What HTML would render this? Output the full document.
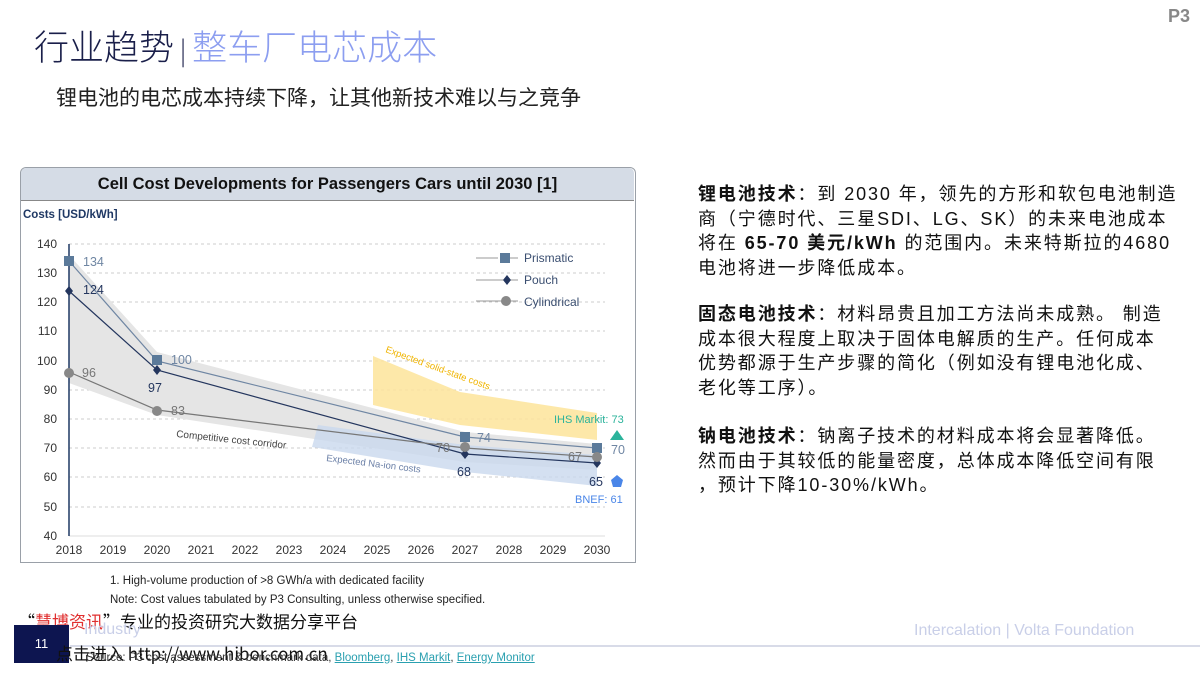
<!DOCTYPE html>
<html><head><meta charset="utf-8"><style>
body{margin:0;width:1200px;height:675px;background:#fff;position:relative;overflow:hidden;font-family:"Liberation Sans","Noto Sans CJK SC",sans-serif}
.a{position:absolute;white-space:nowrap}
.rt{position:absolute;left:698px;font-size:18px;line-height:24.5px;color:#111;white-space:nowrap;letter-spacing:1.9px}
.rt b{font-weight:bold}
</style></head><body>
<div class="a" style="left:34px;top:20px;font-size:35px;color:#1a1f4a;font-family:'Noto Sans CJK SC',sans-serif;font-weight:300">行业趋势<span style="font-size:26px;color:#1a1f4a"> | </span><span style="color:#8c9ef0">整车厂电芯成本</span></div>
<div class="a" style="left:1168px;top:6px;font-size:18px;color:#888;font-weight:bold">P3</div>
<div class="a" style="left:56px;top:82px;font-size:21px;color:#222;font-family:'Noto Sans CJK SC',sans-serif">锂电池的电芯成本持续下降，让其他新技术难以与之竞争</div>

<div class="a" style="left:20px;top:167px;width:614px;height:394px;border:1.5px solid #9aa0a8;border-radius:6px 6px 0 0"></div>
<div class="a" style="left:21px;top:168px;width:613px;height:32px;background:#d5dce6;border-bottom:1.5px solid #888;border-radius:5px 5px 0 0;text-align:center;font-size:16.5px;font-weight:bold;line-height:32px;color:#111">Cell Cost Developments for Passengers Cars until 2030 [1]</div>

<svg class="a" style="left:0;top:0" width="1200" height="675" font-family="Liberation Sans, sans-serif">
<text x="23" y="218" font-size="11.5" fill="#1f3864" font-weight="bold">Costs [USD/kWh]</text>
<g stroke="#ccc" stroke-dasharray="3,3">
<line x1="69" x2="605" y1="244" y2="244"/><line x1="69" x2="605" y1="273" y2="273"/><line x1="69" x2="605" y1="302" y2="302"/><line x1="69" x2="605" y1="331" y2="331"/><line x1="69" x2="605" y1="361" y2="361"/><line x1="69" x2="605" y1="390" y2="390"/><line x1="69" x2="605" y1="419" y2="419"/><line x1="69" x2="605" y1="448" y2="448"/><line x1="69" x2="605" y1="477" y2="477"/><line x1="69" x2="605" y1="507" y2="507"/>
</g>
<line x1="69" x2="605" y1="536" y2="536" stroke="#ddd"/>
<g font-size="12" fill="#333" text-anchor="end">
<text x="57" y="248">140</text><text x="57" y="277">130</text><text x="57" y="306">120</text><text x="57" y="335">110</text><text x="57" y="365">100</text><text x="57" y="394">90</text><text x="57" y="423">80</text><text x="57" y="452">70</text><text x="57" y="481">60</text><text x="57" y="511">50</text><text x="57" y="540">40</text>
</g>
<g font-size="12" fill="#333" text-anchor="middle">
<text x="69" y="554">2018</text><text x="113" y="554">2019</text><text x="157" y="554">2020</text><text x="201" y="554">2021</text><text x="245" y="554">2022</text><text x="289" y="554">2023</text><text x="333" y="554">2024</text><text x="377" y="554">2025</text><text x="421" y="554">2026</text><text x="465" y="554">2027</text><text x="509" y="554">2028</text><text x="553" y="554">2029</text><text x="597" y="554">2030</text>
</g>
<polygon points="69,255 157,352 465,432 597,444 597,470 465,462 157,415 69,383" fill="#e5e5e5"/>
<polygon points="318,425 465,445 597,455 597,486 465,472 312,447" fill="#c9d8ee" opacity="0.8"/>
<polygon points="373,356 460,392 597,413 597,440 460,425 373,405" fill="#fde49a" opacity="0.85"/>
<text x="385" y="352" font-size="9.5" fill="#f0b400" transform="rotate(20 385 352)">Expected solid-state costs</text>
<text x="176" y="437" font-size="10" fill="#444" transform="rotate(6 176 437)">Competitive cost corridor</text>
<text x="326" y="461" font-size="9.5" fill="#6a7fa6" transform="rotate(7 326 461)">Expected Na-ion costs</text>
<line x1="69" y1="244" x2="69" y2="536" stroke="#1f3864" stroke-width="1.5"/>
<polyline points="69,261 157,361 465,437 597,448" fill="none" stroke="#6f86a3" stroke-width="1.2"/>
<polyline points="69,291 157,370 465,454 597,463" fill="none" stroke="#24365e" stroke-width="1.2"/>
<polyline points="69,372 157,410 465,448 597,457" fill="none" stroke="#777" stroke-width="1.2"/>
<g fill="#5b7a9a"><rect x="64" y="256" width="10" height="10"/><rect x="152" y="355" width="10" height="10"/><rect x="460" y="432" width="10" height="10"/><rect x="592" y="443" width="10" height="10"/></g>
<g fill="#24365e"><path d="M69,286l4,5-4,5-4-5z"/><path d="M157,365l4,5-4,5-4-5z"/><path d="M465,449l4,5-4,5-4-5z"/><path d="M597,458l4,5-4,5-4-5z"/></g>
<g fill="#888"><circle cx="69" cy="373" r="5"/><circle cx="157" cy="411" r="5"/><circle cx="465" cy="447" r="5"/><circle cx="597" cy="457" r="5"/></g>
<g font-size="12.5" fill="#6f86a3"><text x="83" y="266">134</text><text x="171" y="364">100</text><text x="477" y="442">74</text><text x="611" y="454">70</text></g>
<g font-size="12.5" fill="#24365e"><text x="83" y="294">124</text><text x="148" y="392">97</text><text x="457" y="476">68</text><text x="589" y="486">65</text></g>
<g font-size="12.5" fill="#777"><text x="82" y="377">96</text><text x="171" y="415">83</text><text x="436" y="452">70</text><text x="568" y="461">67</text></g>
<polygon points="617,430 624,440 610,440" fill="#2bb39b"/>
<polygon points="617,475 623,480 621,487 613,487 611,480" fill="#4a86e8"/>
<text x="554" y="423" font-size="11" fill="#2bb39b">IHS Markit: 73</text>
<text x="575" y="503" font-size="11" fill="#4a86e8">BNEF: 61</text>
<line x1="476" y1="258" x2="498" y2="258" stroke="#999"/><rect x="500" y="253" width="10" height="10" fill="#5b7a9a"/><line x1="510" y1="258" x2="518" y2="258" stroke="#999"/>
<line x1="476" y1="280" x2="518" y2="280" stroke="#999"/><path d="M507,275l4,5-4,5-4-5z" fill="#24365e"/>
<line x1="476" y1="301" x2="518" y2="301" stroke="#999"/><circle cx="506" cy="301" r="5" fill="#888"/>
<g font-size="12" fill="#3a4e70"><text x="524" y="262">Prismatic</text><text x="524" y="284">Pouch</text><text x="524" y="306">Cylindrical</text></g>
</svg>

<div class="rt" style="top:182px"><b>锂电池技术</b>：到 2030 年，领先的方形和软包电池制造<br>商（宁德时代、三星SDI、LG、SK）的未来电池成本<br>将在 <b>65-70 美元/kWh</b> 的范围内。未来特斯拉的4680<br>电池将进一步降低成本。</div>
<div class="rt" style="top:302px"><b>固态电池技术</b>：材料昂贵且加工方法尚未成熟。 制造<br>成本很大程度上取决于固体电解质的生产。任何成本<br>优势都源于生产步骤的简化（例如没有锂电池化成、<br>老化等工序）。</div>
<div class="rt" style="top:424px"><b>钠电池技术</b>：钠离子技术的材料成本将会显著降低。<br>然而由于其较低的能量密度，总体成本降低空间有限<br>，预计下降10-30%/kWh。</div>

<div class="a" style="left:110px;top:575px;font-size:11.5px;color:#222">1. High-volume production of &gt;8 GWh/a with dedicated facility</div>
<div class="a" style="left:110px;top:594px;font-size:11.5px;color:#222">Note: Cost values tabulated by P3 Consulting, unless otherwise specified.</div>
<div class="a" style="left:18px;top:608px;font-size:17px;color:#111;font-family:'Noto Sans CJK SC',sans-serif">“<span style="color:#e03030">慧博资讯</span>”专业的投资研究大数据分享平台</div>
<div class="a" style="left:14px;top:625px;width:55px;height:38px;background:#0d1550;color:#fff;font-size:13px;text-align:center;line-height:38px">11</div>
<div class="a" style="left:84px;top:621px;font-size:16px;color:#c9cfe8">Industry</div>
<div class="a" style="left:70px;top:645px;width:1130px;height:2px;background:#d8dbe8"></div>
<div class="a" style="left:914px;top:622px;font-size:16px;color:#c9cfe8">Intercalation | Volta Foundation</div>
<div class="a" style="left:56px;top:640px;font-size:17px;color:#111;font-family:'Noto Sans CJK SC',sans-serif">点击进入 http://www.hibor.com.cn</div>
<div class="a" style="left:86px;top:652px;font-size:11.5px;color:#333">Source: P3 cost assessment &amp; benchmark data, <span style="color:#2aa0b0;text-decoration:underline">Bloomberg</span>, <span style="color:#2aa0b0;text-decoration:underline">IHS Markit</span>, <span style="color:#2aa0b0;text-decoration:underline">Energy Monitor</span></div>
</body></html>
